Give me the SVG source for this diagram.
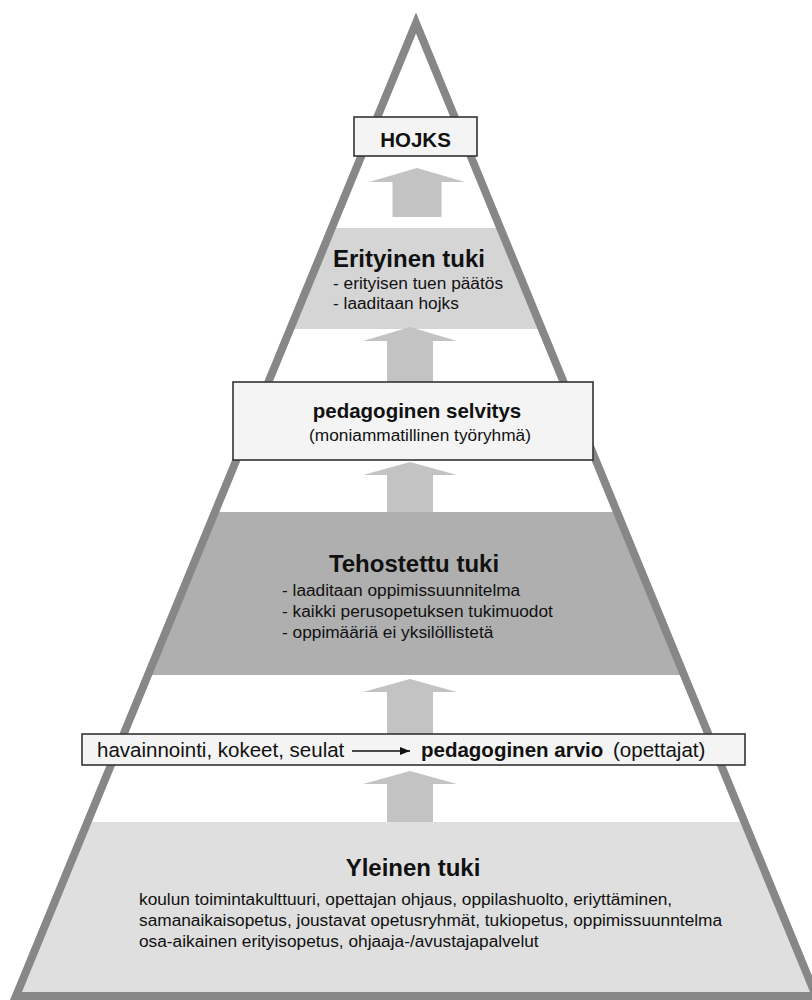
<svg xmlns="http://www.w3.org/2000/svg" width="812" height="1000" viewBox="0 0 812 1000">
  <defs>
    <clipPath id="inside">
      <polygon points="416,23 16,996 816,996"/>
    </clipPath>
    <marker id="head" viewBox="0 0 10 8" refX="10" refY="4" markerWidth="10" markerHeight="8" markerUnits="userSpaceOnUse" orient="auto">
      <path d="M0,0 L10,4 L0,8 Z" fill="#111"/>
    </marker>
    <style>
      .frame { fill: none; stroke: #878787; stroke-width: 8; stroke-linejoin: miter; }
      .up { fill: #c3c3c3; }
      .box { fill: #f4f4f4; stroke: #333; stroke-width: 1.6; }
      text { font-family: "Liberation Sans", Arial, sans-serif; fill: #111; }
      .title { font-size: 24px; font-weight: bold; }
      .sub { font-size: 20.5px; font-weight: bold; }
      .body { font-size: 17.3px; }
      .bar { font-size: 20.5px; }
      .mid { text-anchor: middle; }
    </style>
  </defs>

  <rect width="812" height="1000" fill="#fff"/>

  <!-- level bands, trimmed to the pyramid -->
  <g clip-path="url(#inside)">
    <rect x="0" y="228" width="812" height="101" fill="#d5d5d5"/>
    <rect x="0" y="512" width="812" height="163" fill="#afafaf"/>
    <rect x="0" y="822" width="812" height="178" fill="#dfdfdf"/>
  </g>

  <!-- upward arrows between levels -->
  <g id="connectors">
    <polygon class="up" points="417,168 465,182 441.5,182 441.5,217 392.5,217 392.5,182 369,182"/>
    <polygon class="up" points="410,327 457,341 433,341 433,382 387,382 387,341 363,341"/>
    <polygon class="up" points="410,462 457,475 433,475 433,512 387,512 387,475 363,475"/>
    <polygon class="up" points="410,679 457,692 433,692 433,734 387,734 387,692 363,692"/>
    <polygon class="up" points="410,771 457,784 433,784 433,822 387,822 387,784 363,784"/>
  </g>

  <!-- pyramid outline -->
  <polygon class="frame" points="416,23 16,996 816,996"/>

  <g id="hojks">
    <rect class="box" x="354" y="117" width="123" height="39"/>
    <text class="sub mid" x="415.5" y="147">HOJKS</text>
  </g>

  <g id="erityinen-tuki">
    <text class="title" x="333" y="267">Erityinen tuki</text>
    <text class="body" x="333" y="289">- erityisen tuen päätös</text>
    <text class="body" x="333" y="309">- laaditaan hojks</text>
  </g>

  <g id="pedagoginen-selvitys">
    <rect class="box" x="233" y="382" width="360" height="78"/>
    <text class="sub mid" x="417" y="418">pedagoginen selvitys</text>
    <text class="body mid" x="420" y="441">(moniammatillinen työryhmä)</text>
  </g>

  <g id="tehostettu-tuki">
    <text class="title mid" x="414" y="572">Tehostettu tuki</text>
    <text class="body" x="282" y="596">- laaditaan oppimissuunnitelma</text>
    <text class="body" x="282" y="617">- kaikki perusopetuksen tukimuodot</text>
    <text class="body" x="282" y="638">- oppimääriä ei yksilöllistetä</text>
  </g>

  <g id="pedagoginen-arvio">
    <rect class="box" x="82" y="734" width="663" height="31"/>
    <text class="bar" x="97" y="757">havainnointi, kokeet, seulat</text>
    <line x1="352" y1="751" x2="410" y2="751" stroke="#111" stroke-width="1.6" marker-end="url(#head)"/>
    <text class="bar" x="421" y="757" font-weight="bold">pedagoginen arvio</text>
    <text class="bar" x="613" y="757">(opettajat)</text>
  </g>

  <g id="yleinen-tuki">
    <text class="title mid" x="413" y="876">Yleinen tuki</text>
    <text class="body" x="139" y="905">koulun toimintakulttuuri, opettajan ohjaus, oppilashuolto, eriyttäminen,</text>
    <text class="body" x="139" y="926">samanaikaisopetus, joustavat opetusryhmät, tukiopetus, oppimissuunntelma</text>
    <text class="body" x="139" y="947">osa-aikainen erityisopetus, ohjaaja-/avustajapalvelut</text>
  </g>
</svg>
